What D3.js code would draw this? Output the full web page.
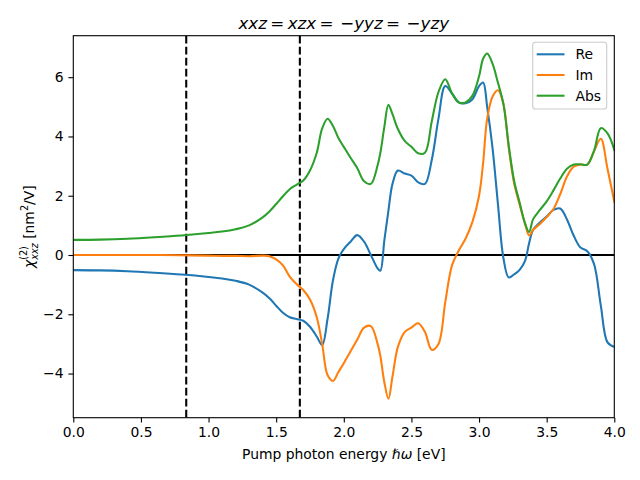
<!DOCTYPE html>
<html>
<head>
<meta charset="utf-8">
<script src="https://cdn.jsdelivr.net/npm/d3@7"></script>
<style>
  body { margin: 0; background: #fff; }
  svg { display: block; font-family: "DejaVu Sans", sans-serif; }
  text { white-space: pre; }
</style>
</head>
<body>
<svg id="chart" width="640" height="480"></svg>
<script>
// ---- data ----
const energy = [0, 0.2, 0.4, 0.6, 0.8, 1.0, 1.1, 1.2, 1.3, 1.4, 1.45, 1.5, 1.55, 1.6, 1.65, 1.7, 1.75, 1.8, 1.84, 1.88, 1.92, 1.96, 2.0, 2.05, 2.1, 2.15, 2.2, 2.25, 2.27, 2.3, 2.33, 2.36, 2.4, 2.45, 2.5, 2.55, 2.6, 2.65, 2.7, 2.75, 2.8, 2.85, 2.9, 2.95, 3.0, 3.03, 3.06, 3.1, 3.14, 3.18, 3.22, 3.26, 3.3, 3.34, 3.37, 3.4, 3.45, 3.5, 3.55, 3.6, 3.65, 3.7, 3.75, 3.8, 3.85, 3.9, 3.95, 4.0];

const reValues = [-0.51, -0.52, -0.55, -0.60, -0.66, -0.74, -0.79, -0.87, -1.00, -1.27, -1.46, -1.71, -1.95, -2.10, -2.16, -2.22, -2.42, -2.75, -3.04, -2.15, -0.85, -0.12, 0.20, 0.45, 0.67, 0.45, 0.00, -0.45, -0.53, 0.50, 1.50, 2.40, 2.85, 2.75, 2.68, 2.45, 2.40, 3.20, 4.60, 5.70, 5.45, 5.15, 5.12, 5.25, 5.70, 5.82, 5.00, 3.60, 1.70, -0.10, -0.76, -0.65, -0.50, -0.20, 0.40, 0.85, 1.10, 1.30, 1.52, 1.57, 1.20, 0.65, 0.25, 0.13, -0.30, -1.70, -2.95, -3.10];

const imValues = [0, 0, 0, 0, -0.01, -0.02, -0.03, -0.03, -0.04, -0.02, -0.04, -0.15, -0.35, -0.73, -0.98, -1.18, -1.50, -2.10, -3.00, -4.05, -4.25, -3.95, -3.65, -3.25, -2.85, -2.45, -2.40, -3.00, -3.40, -4.30, -4.85, -4.10, -3.10, -2.60, -2.45, -2.30, -2.60, -3.20, -3.00, -1.60, -0.35, 0.15, 0.55, 1.10, 2.00, 3.10, 4.60, 5.35, 5.56, 5.10, 3.60, 2.40, 1.70, 1.05, 0.66, 0.85, 1.05, 1.28, 1.55, 2.05, 2.65, 2.98, 3.05, 3.05, 3.50, 3.92, 2.90, 1.80];

const absValues = [0.51, 0.52, 0.55, 0.60, 0.66, 0.74, 0.79, 0.87, 1.00, 1.27, 1.47, 1.72, 1.98, 2.22, 2.37, 2.51, 2.85, 3.45, 4.27, 4.60, 4.35, 3.95, 3.65, 3.28, 2.93, 2.49, 2.40, 3.03, 3.44, 4.33, 5.07, 4.75, 4.25, 3.85, 3.65, 3.43, 3.45, 4.50, 5.50, 5.93, 5.46, 5.15, 5.15, 5.37, 6.03, 6.62, 6.80, 6.45, 5.81, 5.10, 3.68, 2.49, 1.77, 1.07, 0.78, 1.21, 1.52, 1.81, 2.18, 2.58, 2.91, 3.05, 3.06, 3.05, 3.51, 4.28, 4.10, 3.55];

const seriesNames = ["Re", "Im", "Abs"];
const seriesColors = ["#1f77b4", "#ff7f0e", "#2ca02c"];
const dashedLines = [0.835, 1.675];
const xTicks = [0, 0.5, 1.0, 1.5, 2.0, 2.5, 3.0, 3.5, 4.0];
const yTicks = [-4, -2, 0, 2, 4, 6];
const xDomain = [0, 4];
const yDomain = [-5.49, 7.40];

// ---- layout ----
const svg = d3.select("#chart");
const plot = { left: 73.3, right: 614.3, top: 35.7, bottom: 417.7 };
const x = d3.scaleLinear().domain(xDomain).range([plot.left, plot.right]);
const y = d3.scaleLinear().domain(yDomain).range([plot.bottom, plot.top]);
const FS = 13.9;

const clipId = "plotclip";
svg.append("defs").append("clipPath").attr("id", clipId)
  .append("rect").attr("x", plot.left).attr("y", plot.top)
  .attr("width", plot.right - plot.left).attr("height", plot.bottom - plot.top);

const g = svg.append("g").attr("clip-path", `url(#${clipId})`);

// dashed vertical lines
g.selectAll("line.vdash").data(dashedLines).join("line")
  .attr("class", "vdash")
  .attr("x1", d => x(d)).attr("x2", d => x(d))
  .attr("y1", plot.top).attr("y2", plot.bottom)
  .attr("stroke", "#000").attr("stroke-width", 2.08)
  .attr("stroke-dasharray", "7.7,3.3");

// zero line
g.append("line")
  .attr("x1", plot.left).attr("x2", plot.right)
  .attr("y1", y(0)).attr("y2", y(0))
  .attr("stroke", "#000").attr("stroke-width", 2.08);

// series lines
const allSeries = [reValues, imValues, absValues];
const line = d3.line()
  .x((d, i) => x(energy[i]))
  .y(d => y(d))
  .curve(d3.curveCatmullRom.alpha(0.5));

allSeries.forEach((vals, k) => {
  g.append("path").datum(vals)
    .attr("d", line)
    .attr("fill", "none")
    .attr("stroke", seriesColors[k])
    .attr("stroke-width", 2.08)
    .attr("stroke-linejoin", "round")
    .attr("stroke-linecap", "square");
});

// axes
const xAxis = d3.axisBottom(x).tickValues(xTicks).tickFormat(d3.format(".1f"))
  .tickSizeInner(4.9).tickSizeOuter(0).tickPadding(4.9);
const yAxis = d3.axisLeft(y).tickValues(yTicks).tickFormat(d3.format("d"))
  .tickSizeInner(4.9).tickSizeOuter(0).tickPadding(4.9);

const gx = svg.append("g").attr("transform", `translate(0,${plot.bottom})`).call(xAxis);
const gy = svg.append("g").attr("transform", `translate(${plot.left},0)`).call(yAxis);
[gx, gy].forEach(a => {
  a.select(".domain").remove();
  a.selectAll(".tick line").attr("stroke", "#000").attr("stroke-width", 1.1);
  a.selectAll(".tick text").attr("fill", "#000")
    .attr("font-size", FS).attr("font-family", "DejaVu Sans, sans-serif");
});
gx.selectAll(".tick text").attr("dy", "0.71em");

// frame
svg.append("rect")
  .attr("x", plot.left).attr("y", plot.top)
  .attr("width", plot.right - plot.left).attr("height", plot.bottom - plot.top)
  .attr("fill", "none").attr("stroke", "#000").attr("stroke-width", 1.1);

// ---- legend ----
const lg = svg.append("g");
lg.append("rect")
  .attr("x", 532.7).attr("y", 42.3).attr("width", 74).attr("height", 66.7)
  .attr("rx", 2.8).attr("fill", "#fff").attr("fill-opacity", 0.8)
  .attr("stroke", "#cccccc").attr("stroke-width", 1.1);
seriesNames.forEach((name, i) => {
  const yy = 54.3 + i * 20.7;
  lg.append("line").attr("x1", 536.7).attr("x2", 564.5)
    .attr("y1", yy).attr("y2", yy)
    .attr("stroke", seriesColors[i]).attr("stroke-width", 2.08);
  lg.append("text").attr("x", 575.5).attr("y", yy + 4.9)
    .attr("font-size", FS).attr("fill", "#000").text(name);
});

// ---- math-like text helper ----
function mathText(parent, segs, opts) {
  const grp = parent.append("g");
  let cx = 0, prevStart = 0, prevW = 0;
  const items = [];
  segs.forEach(s => {
    const t = grp.append("text")
      .attr("font-size", s.fs || opts.fs)
      .attr("font-style", s.it ? "italic" : "normal")
      .attr("fill", "#000")
      .attr("xml:space", "preserve")
      .text(s.t);
    const w = t.node().getComputedTextLength();
    let sx;
    if (s.stack) { sx = prevStart; const nw = Math.max(prevW, w); cx = prevStart + nw; }
    else { sx = cx; prevStart = cx; prevW = w; cx += w; }
    t.attr("x", sx).attr("y", s.dy || 0);
    items.push(t);
  });
  const total = cx;
  items.forEach(t => t.attr("x", +t.attr("x") - total / 2));
  return grp;
}

// title: xxz = xzx = −yyz = −yzy
const TS = 16.7;
const title = mathText(svg, [
  {t: "xxz", it: true}, {t: "\u2009=\u2009"}, {t: "xzx", it: true},
  {t: "\u2009=\u2009\u2009\u2212"}, {t: "yyz", it: true},
  {t: "\u2009=\u2009\u2009\u2212"}, {t: "yzy", it: true}
], {fs: TS});
title.attr("transform", `translate(${(plot.left + plot.right) / 2},28.5)`);

// x label: Pump photon energy ħω [eV]
const xl = mathText(svg, [
  {t: "Pump photon energy "}, {t: "\u210Fω", it: true}, {t: " [eV]"}
], {fs: FS});
xl.attr("transform", `translate(${(plot.left + plot.right) / 2},459)`);

// y label: χ^(2)_xxz [nm²/V]
const yl = mathText(svg, [
  {t: "χ", it: true},
  {t: "(2)", fs: 9.7, dy: -6.5},
  {t: "xxz", it: true, fs: 9.7, dy: 4, stack: true},
  {t: " [nm"},
  {t: "2", fs: 9.7, dy: -6},
  {t: "/V]"}
], {fs: FS});
yl.attr("transform", `translate(33.5,${(plot.top + plot.bottom) / 2}) rotate(-90)`);
</script>
</body>
</html>
